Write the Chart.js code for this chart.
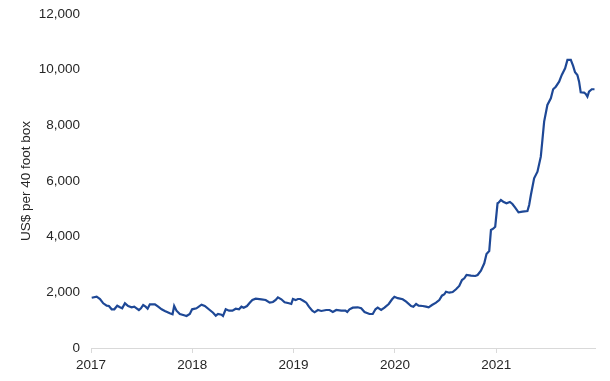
<!DOCTYPE html>
<html>
<head>
<meta charset="utf-8">
<script src="https://cdn.jsdelivr.net/npm/chart.js@4/dist/chart.umd.min.js"></script>
<style>
html,body{margin:0;padding:0;background:#fff;}
#wrap{width:610px;height:381px;position:relative;}
</style>
</head>
<body>
<div id="wrap"><canvas id="c" width="610" height="381"></canvas></div>
<script>
// Time (decimal years) of each reading
const dates = [
2017.007,2017.056,2017.089,2017.121,2017.155,2017.177,2017.204,2017.230,2017.259,2017.286,
2017.308,2017.335,2017.367,2017.401,2017.427,2017.450,2017.473,2017.493,2017.515,2017.539,
2017.559,2017.581,2017.631,2017.663,2017.697,2017.729,2017.778,2017.805,2017.821,2017.844,
2017.877,2017.919,2017.943,2017.975,2017.998,
2018.041,2018.091,2018.123,2018.172,2018.205,2018.232,2018.254,2018.288,2018.303,2018.330,
2018.363,2018.396,2018.429,2018.461,2018.485,2018.507,2018.540,2018.567,2018.593,2018.626,
2018.682,2018.724,2018.764,2018.796,2018.823,2018.845,2018.879,2018.911,2018.954,2018.977,
2018.993,2019.020,2019.042,
2019.066,2019.099,2019.125,2019.151,2019.184,2019.207,2019.240,2019.273,2019.322,2019.355,
2019.387,2019.421,2019.470,2019.512,2019.529,2019.552,2019.584,2019.633,2019.667,2019.700,
2019.749,2019.781,2019.808,2019.830,2019.864,2019.897,2019.939,2019.972,2019.995,2020.028,
2020.077,2020.111,2020.160,2020.182,2020.209,2020.234,2020.274,2020.307,2020.333,2020.366,
2020.406,2020.438,2020.464,2020.488,2020.504,2020.537,2020.570,2020.603,2020.635,2020.662,
2020.685,2020.707,2020.751,2020.793,2020.816,2020.849,2020.882,2020.904,2020.931,2020.948,
2020.970,2020.990,2021.013,2021.023,
2021.046,2021.069,2021.101,2021.135,2021.160,2021.187,2021.220,2021.259,2021.308,2021.325,
2021.342,2021.374,2021.407,2021.440,2021.456,2021.473,2021.505,2021.539,2021.562,2021.588,
2021.621,2021.647,2021.680,2021.703,2021.736,2021.759,2021.778,2021.801,2021.818,2021.834,
2021.867,2021.884,2021.900,2021.916,2021.943,2021.970
];
// Composite container freight rate, US$ per 40 foot box
const rates = [
1807,1843,1760,1606,1520,1509,1390,1390,1520,1462,
1426,1606,1509,1462,1484,1426,1365,1426,1545,1484,
1412,1570,1570,1484,1390,1330,1247,1211,1509,1340,
1222,1175,1150,1222,1390,
1426,1556,1509,1365,1268,1160,1222,1197,1150,1390,
1340,1340,1412,1390,1484,1448,1509,1628,1725,1772,
1750,1725,1628,1653,1725,1820,1750,1642,1606,1581,
1760,1720,1760,
1760,1689,1628,1484,1340,1283,1365,1330,1365,1365,
1294,1365,1340,1340,1294,1390,1448,1462,1426,1294,
1222,1222,1390,1448,1365,1448,1581,1750,1843,1790,
1750,1664,1509,1484,1581,1520,1509,1484,1462,1545,
1628,1725,1880,1930,2023,1987,2012,2109,2228,2443,
2504,2623,2598,2587,2623,2778,3043,3378,3485,4240,
4287,4359,5200,5221,
5318,5257,5200,5246,5174,5041,4876,4898,4923,5138,
5498,6098,6335,6874,7474,8132,8732,8972,9296,9389,
9569,9810,10051,10349,10349,10133,9906,9810,9569,9187,
9174,9127,9030,9210,9296,9296
];
const yearTicks = [2017, 2018, 2019, 2020, 2021];
const yTicks = [0, 2000, 4000, 6000, 8000, 10000, 12000];
const yTitle = "US$ per 40 foot box";

const points = dates.map((d, i) => ({x: d, y: rates[i]}));
const font = {family: "'Liberation Sans', Arial, sans-serif", size: 13.5};
const textColor = '#262626';

new Chart(document.getElementById('c'), {
  type: 'line',
  data: {
    datasets: [{
      data: points,
      borderColor: '#1e4896',
      borderWidth: 2.2,
      pointRadius: 0,
      tension: 0,
      fill: false
    }]
  },
  options: {
    responsive: false,
    animation: false,
    layout: {padding: {left: 0, right: 15, top: 14, bottom: 0}},
    plugins: {legend: {display: false}, tooltip: {enabled: false}},
    scales: {
      x: {
        type: 'linear',
        min: 2017,
        max: 2021.975,
        afterBuildTicks: s => { s.ticks = yearTicks.map(v => ({value: v})); },
        afterFit: s => { s.height = 33; s.paddingTop = 0; s.paddingBottom = 0; },
        ticks: {
          color: textColor, font: font, padding: 4, maxRotation: 0,
          callback: v => String(v)
        },
        grid: {display: true, drawOnChartArea: false, drawTicks: true, tickLength: 5, color: '#d9d9d9', lineWidth: 1},
        border: {display: true, color: '#d9d9d9', width: 1}
      },
      y: {
        min: 0,
        max: 12000,
        afterBuildTicks: s => { s.ticks = yTicks.map(v => ({value: v})); },
        afterFit: s => { s.width = 91; s.paddingTop = 0; s.paddingBottom = 0; },
        ticks: {
          color: textColor, font: font, padding: 11,
          callback: v => v.toLocaleString('en-US')
        },
        grid: {display: false, drawTicks: false},
        border: {display: false},
        title: {display: true, text: yTitle, color: textColor, font: font, padding: {top: 18, bottom: 0}}
      }
    }
  }
});
</script>
</body>
</html>
